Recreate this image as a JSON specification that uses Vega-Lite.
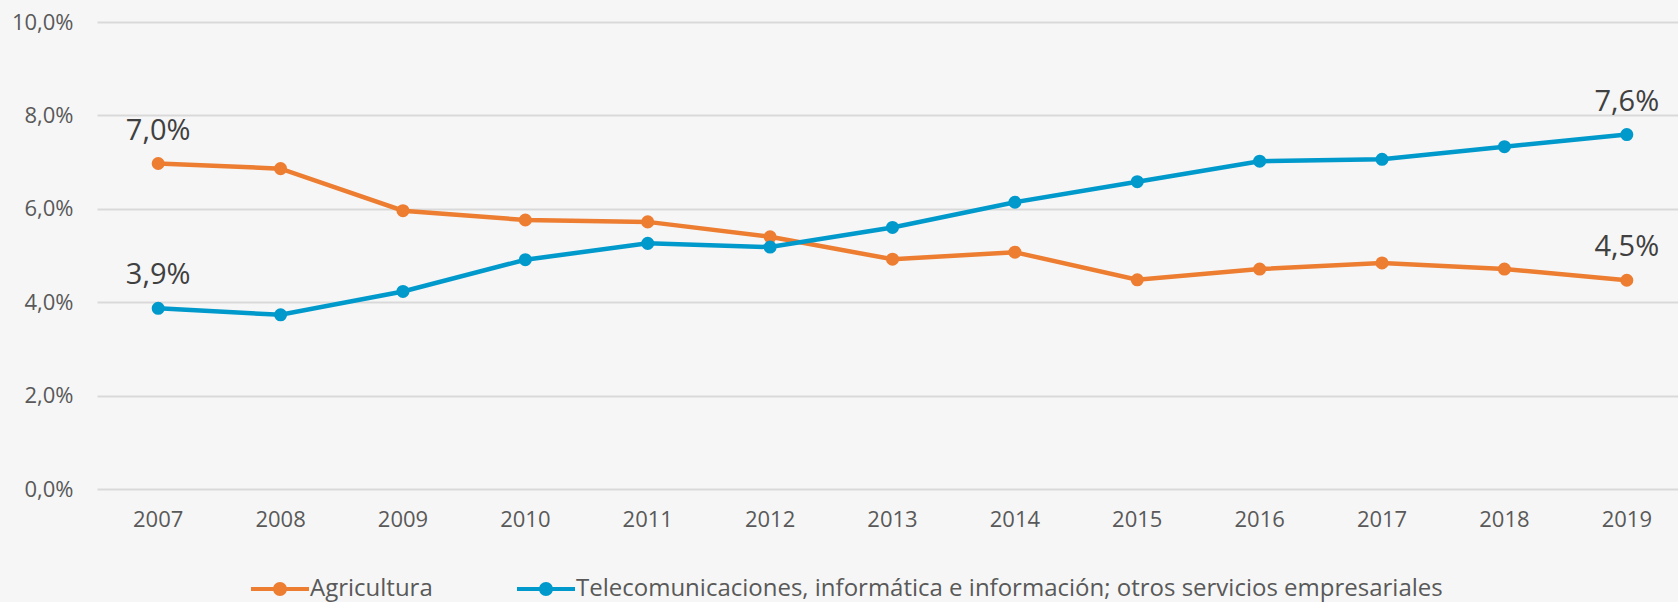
{
  "$schema": "https://vega.github.io/schema/vega-lite/v6.json",
  "autosize": {"type": "none"},
  "padding": {"left": 97, "top": 22, "right": 0, "bottom": 113},
  "width": 1591,
  "height": 467,
  "background": "#f6f6f6",
  "config": {
    "locale": {"number": {"decimal": ",", "thousands": ".", "grouping": [3], "currency": ["", " €"]}},
    "view": {"stroke": null},
    "font": "Open Sans"
  },
  "data": {
    "values": [
      {"year": "2007", "serie": "Agricultura", "value": 0.0697},
      {"year": "2008", "serie": "Agricultura", "value": 0.0686},
      {"year": "2009", "serie": "Agricultura", "value": 0.0596},
      {"year": "2010", "serie": "Agricultura", "value": 0.0576},
      {"year": "2011", "serie": "Agricultura", "value": 0.0572},
      {"year": "2012", "serie": "Agricultura", "value": 0.0540},
      {"year": "2013", "serie": "Agricultura", "value": 0.0492},
      {"year": "2014", "serie": "Agricultura", "value": 0.0507},
      {"year": "2015", "serie": "Agricultura", "value": 0.0448},
      {"year": "2016", "serie": "Agricultura", "value": 0.0471},
      {"year": "2017", "serie": "Agricultura", "value": 0.0484},
      {"year": "2018", "serie": "Agricultura", "value": 0.0471},
      {"year": "2019", "serie": "Agricultura", "value": 0.0447},
      {"year": "2007", "serie": "Telecomunicaciones, informática e información; otros servicios empresariales", "value": 0.0387},
      {"year": "2008", "serie": "Telecomunicaciones, informática e información; otros servicios empresariales", "value": 0.0373},
      {"year": "2009", "serie": "Telecomunicaciones, informática e información; otros servicios empresariales", "value": 0.0423},
      {"year": "2010", "serie": "Telecomunicaciones, informática e información; otros servicios empresariales", "value": 0.0491},
      {"year": "2011", "serie": "Telecomunicaciones, informática e información; otros servicios empresariales", "value": 0.0526},
      {"year": "2012", "serie": "Telecomunicaciones, informática e información; otros servicios empresariales", "value": 0.0518},
      {"year": "2013", "serie": "Telecomunicaciones, informática e información; otros servicios empresariales", "value": 0.0560},
      {"year": "2014", "serie": "Telecomunicaciones, informática e información; otros servicios empresariales", "value": 0.0614},
      {"year": "2015", "serie": "Telecomunicaciones, informática e información; otros servicios empresariales", "value": 0.0658},
      {"year": "2016", "serie": "Telecomunicaciones, informática e información; otros servicios empresariales", "value": 0.0702},
      {"year": "2017", "serie": "Telecomunicaciones, informática e información; otros servicios empresariales", "value": 0.0706},
      {"year": "2018", "serie": "Telecomunicaciones, informática e información; otros servicios empresariales", "value": 0.0733},
      {"year": "2019", "serie": "Telecomunicaciones, informática e información; otros servicios empresariales", "value": 0.0759}
    ]
  },
  "encoding": {
    "x": {
      "field": "year", "type": "ordinal",
      "scale": {"type": "band", "paddingInner": 0, "paddingOuter": 0},
      "axis": {"title": null, "labelAngle": 0, "domain": false, "ticks": false, "labelFontSize": 22, "labelColor": "#595959", "labelPadding": 20, "labelFont": "Open Sans"}
    },
    "y": {
      "field": "value", "type": "quantitative",
      "scale": {"domain": [0, 0.1]},
      "axis": {"title": null, "format": ".1%", "values": [0, 0.02, 0.04, 0.06, 0.08, 0.1], "domain": false, "ticks": false, "labelFontSize": 22, "labelColor": "#595959", "labelPadding": 24, "gridColor": "#d9d9d9", "gridWidth": 2, "labelFont": "Open Sans"}
    },
    "color": {
      "field": "serie", "type": "nominal",
      "scale": {"range": ["#ED7D31", "#0099CC"]},
      "legend": {
        "title": null, "orient": "none", "direction": "horizontal",
        "legendX": 154, "legendY": 538,
        "symbolType": "M-1,-0.07L1,-0.07L1,0.07L-1,0.07Z M-0.24,0A0.24,0.24 0 1,1 0.24,0A0.24,0.24 0 1,1 -0.24,0Z",
        "symbolSize": 3364, "symbolStrokeWidth": 0,
        "labelFontSize": 24, "labelColor": "#595959", "labelOffset": 1, "columnPadding": 84, "labelLimit": 1200,
        "encode": {"symbols": {"update": {"fill": {"scale": "color", "field": "value"}, "fillOpacity": {"value": 1}, "strokeWidth": {"value": 0}}}}
      }
    }
  },
  "layer": [
    {"mark": {"type": "line", "strokeWidth": 4.5}},
    {"mark": {"type": "point", "filled": true, "size": 170, "opacity": 1}},
    {
      "transform": [{"filter": "datum.year == '2007' || datum.year == '2019'"}],
      "mark": {"type": "text", "baseline": "bottom", "dy": -18, "fontSize": 29, "color": "#404040"},
      "encoding": {"text": {"field": "value", "type": "quantitative", "format": ".1%"}, "color": {"value": "#404040"}}
    }
  ]
}
